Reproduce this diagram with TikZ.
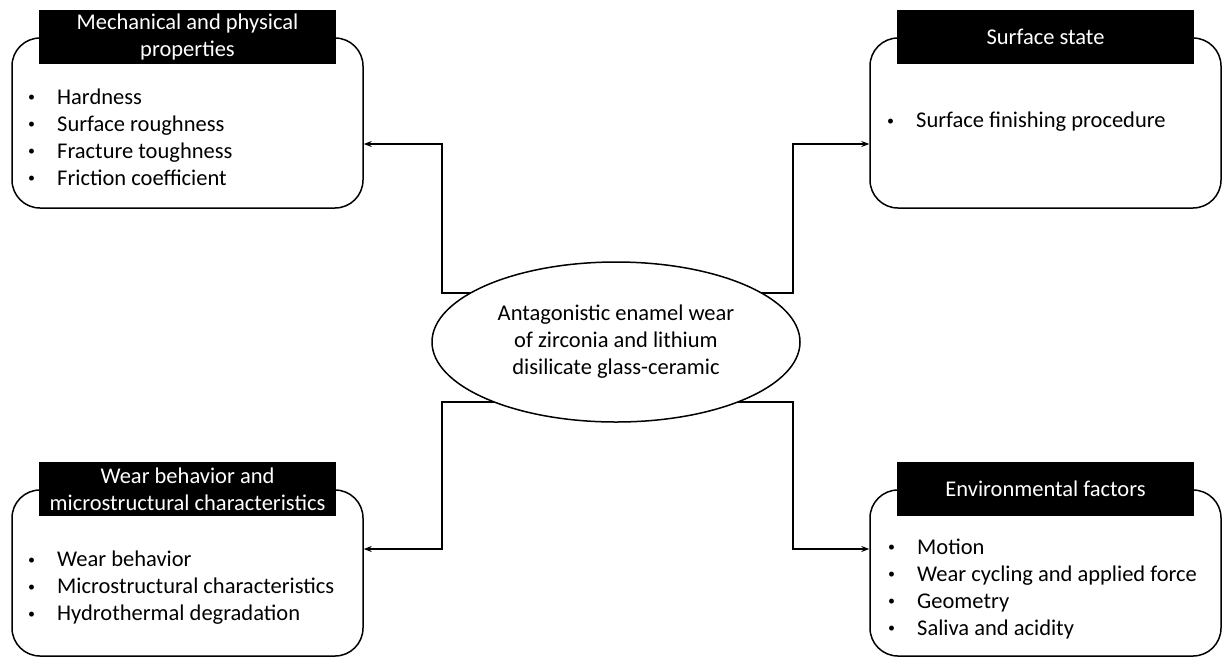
\documentclass[tikz,border=0pt]{standalone}
\usepackage{fontspec}
\setmainfont{Carlito}
\usetikzlibrary{arrows.meta,positioning,shapes.geometric,calc,backgrounds}

\newcommand{\itm}[1]{\makebox[29pt][l]{\raisebox{0.12em}{\scalebox{0.62}{\textbullet}}}#1}

\tikzset{
  panel/.style = {draw, line width=1.5pt, rounded corners=28pt, minimum width=351pt},
  header/.style = {fill=black, text=white, align=center, minimum width=297pt,
                   minimum height=54pt, inner sep=0pt},
  items/.style = {align=left, anchor=west, inner sep=0pt},
  link/.style = {line width=1.3pt, -{Stealth[length=8pt,width=6pt]}}
}

\begin{document}
\begin{tikzpicture}[x=1pt, y=-1pt, font=\fontsize{22.5}{27}\selectfont]
	\useasboundingbox (0,0) rectangle (1222,657);

	\node [panel, minimum height=170pt] (mech) at (187.5,123) {};
	\node [panel, minimum height=170pt] (surf) at (1045.5,123) {};
	\node [panel, minimum height=166pt] (wear) at (187.5,573) {};
	\node [panel, minimum height=166pt] (env) at (1045.5,573) {};

	\node [header] (mechhead) at (mech.north) {Mechanical and physical\\properties};
	\node [header] (surfhead) at (surf.north) {Surface state};
	\node [header] (wearhead) at (wear.north) {Wear behavior and\\microstructural characteristics};
	\node [header] (envhead) at (env.north) {Environmental factors};

	\node [items] (mechlist) at (28,137) {\itm{Hardness}\\\itm{Surface roughness}\\\itm{Fracture toughness}\\\itm{Friction coefficient}};
	\node [items] (surflist) at (887,122) {\itm{Surface finishing procedure}};
	\node [items] (wearlist) at (28,588) {\itm{Wear behavior}\\\itm{Microstructural characteristics}\\\itm{Hydrothermal degradation}};
	\node [items] (envlist) at (888,589) {\itm{Motion}\\\itm{Wear cycling and applied force}\\\itm{Geometry}\\\itm{Saliva and acidity}};

	\node [draw, ellipse, fill=white, line width=1.5pt, minimum width=368pt, minimum height=160pt,
	       align=center, inner sep=0pt] (core) at (616,342)
	      {Antagonistic enamel wear\\of zirconia and lithium\\disilicate glass-ceramic};

	\coordinate (kneenw) at (442,293);
	\coordinate (kneene) at (793,293);
	\coordinate (kneesw) at (442,402);
	\coordinate (kneese) at (793,402);

	\begin{scope}[on background layer]
		\draw [link] (core.center |- kneenw) -- (kneenw) |- ($(mech.east)+(0,21)$);
		\draw [link] (core.center |- kneene) -- (kneene) |- ($(surf.west)+(0,21)$);
		\draw [link] (core.center |- kneesw) -- (kneesw) |- ($(wear.east)+(0,-24)$);
		\draw [link] (core.center |- kneese) -- (kneese) |- ($(env.west)+(0,-24)$);
	\end{scope}
\end{tikzpicture}
\end{document}
